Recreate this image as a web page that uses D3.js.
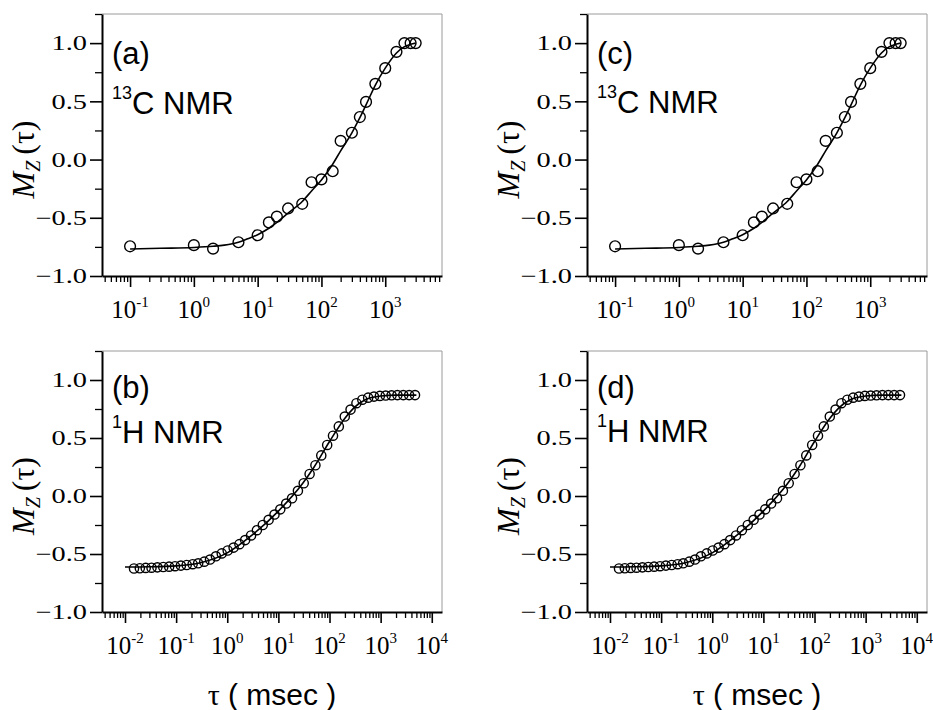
<!DOCTYPE html>
<html>
<head>
<meta charset="utf-8">
<script src="https://cdn.jsdelivr.net/npm/d3@7"></script>
<style>
  body { margin: 0; background: #fff; }
  svg text { fill: #000; }
</style>
</head>
<body>
<script>
  // 13C NMR recovery, panels (a) and (c)
  const cTau = [0.1, 1, 2, 5, 10, 15, 20, 30, 50, 70, 100, 150, 200, 300, 400, 500, 700, 1000, 1500, 2000, 2500, 3000];
  const cMz = [-0.745, -0.735, -0.765, -0.71, -0.65, -0.54, -0.49, -0.42, -0.38, -0.195, -0.17, -0.10, 0.16, 0.23, 0.365, 0.495, 0.65, 0.785, 0.925, 1.0, 1.0, 1.0];
  const cFitTau = [0.1, 0.3, 1, 2, 3, 5, 7, 10, 15, 20, 30, 50, 70, 100, 150, 200, 300, 400, 500, 700, 1000, 1500, 2000, 2500, 3000];
  const cFitMz = [-0.768, -0.762, -0.755, -0.745, -0.735, -0.71, -0.68, -0.645, -0.59, -0.54, -0.46, -0.36, -0.27, -0.175, -0.04, 0.075, 0.23, 0.36, 0.47, 0.64, 0.785, 0.915, 0.97, 0.99, 1.0];

  // 1H NMR recovery, panels (b) and (d)
  const hTau = [0.015, 0.0195, 0.0254, 0.033, 0.043, 0.056, 0.073, 0.095, 0.124, 0.161, 0.21, 0.27, 0.355, 0.46, 0.60, 0.78,
    1.02, 1.33, 1.73, 2.24, 2.92, 3.8, 4.95, 6.45, 8.4, 10.9, 14.2, 18.5, 24.1, 31.3, 40.8, 53, 69, 90, 117, 152, 199,
    258, 336, 438, 570, 741, 966, 1256, 1636, 2128, 2773, 3606, 4699];
  const hMz = [-0.625, -0.623, -0.62, -0.618, -0.615, -0.612, -0.609, -0.605, -0.60, -0.595, -0.588, -0.58, -0.566, -0.548,
    -0.52, -0.495, -0.47, -0.445, -0.415, -0.38, -0.34, -0.295, -0.25, -0.205, -0.16, -0.115, -0.065, -0.02,
    0.045, 0.11, 0.19, 0.265, 0.35, 0.44, 0.52, 0.60, 0.685, 0.745, 0.80, 0.83, 0.848, 0.857, 0.863, 0.866, 0.868,
    0.87, 0.87, 0.87, 0.87];
  const hFitTau = [0.01, 0.03, 0.1, 0.3, 1, 3, 10, 30, 50, 100, 200, 300, 500, 1000, 2000, 5000];
  const hFitMz = [-0.612, -0.61, -0.602, -0.575, -0.49, -0.34, -0.13, 0.11, 0.25, 0.47, 0.67, 0.76, 0.83, 0.862, 0.87, 0.87];

  // tick labels
  const topExponents = [-1, 0, 1, 2, 3];
  const bottomExponents = [-2, -1, 0, 1, 2, 3, 4];
  const yMajor = [-1.0, -0.5, 0.0, 0.5, 1.0];
  const yMinor = [-0.75, -0.25, 0.25, 0.75, 1.25];

  const sets = {
    c: { tau: cTau, mz: cMz, fitTau: cFitTau, fitMz: cFitMz, exps: topExponents, dom: [0.0363, 7760], r: 5.4 },
    h: { tau: hTau, mz: hMz, fitTau: hFitTau, fitMz: hFitMz, exps: bottomExponents, dom: [0.00355, 15850], r: 4.6 }
  };

  const panels = [
    { tag: "(a)", iso: "13", nuc: "C NMR", set: "c", left: 102, top: 14, h: 262, tagY: 50, nucY: 100, xTitle: false },
    { tag: "(b)", iso: "1", nuc: "H NMR", set: "h", left: 102, top: 351, h: 261, tagY: 47, nucY: 92, xTitle: true },
    { tag: "(c)", iso: "13", nuc: "C NMR", set: "c", left: 587, top: 14, h: 262, tagY: 50, nucY: 99, xTitle: false },
    { tag: "(d)", iso: "1", nuc: "H NMR", set: "h", left: 587, top: 351, h: 261, tagY: 47, nucY: 91, xTitle: true }
  ];
  const panelW = 340;

  const svg = d3.select("body").append("svg")
    .attr("width", 933)
    .attr("height", 710);

  panels.forEach(p => {
    const s = sets[p.set];
    const g = svg.append("g").attr("transform", "translate(" + p.left + "," + p.top + ")");

    const x = d3.scaleLog().domain(s.dom).range([0, panelW]);
    const y = d3.scaleLinear().domain([-1, 1.25]).range([p.h, 0]);

    // frame top / right (faint)
    g.append("path")
      .attr("d", "M0,0H" + panelW + "V" + p.h)
      .attr("fill", "none")
      .attr("stroke", "#9a9a9a")
      .attr("stroke-width", 1);

    // x ticks
    const allTicks = x.ticks();
    const major = allTicks.filter(t => Math.abs(Math.log10(t) - Math.round(Math.log10(t))) < 1e-9);
    const minor = allTicks.filter(t => major.indexOf(t) < 0);

    g.append("g").attr("transform", "translate(0," + p.h + ")")
      .call(d3.axisBottom(x).tickValues(minor).tickSize(6).tickSizeOuter(0).tickFormat(""))
      .call(a => a.select(".domain").remove())
      .selectAll("line").attr("stroke-width", 1.3);
    g.append("g").attr("transform", "translate(0," + p.h + ")")
      .call(d3.axisBottom(x).tickValues(major).tickSize(11).tickSizeOuter(0).tickFormat(""))
      .call(a => a.select(".domain").attr("stroke-width", 2))
      .selectAll("line").attr("stroke-width", 1.6);

    // x tick labels
    s.exps.forEach(e => {
      const t = g.append("text")
        .attr("x", x(Math.pow(10, e)))
        .attr("y", p.h + 42)
        .attr("text-anchor", "middle")
        .style("font-family", "'Liberation Serif', 'Times New Roman', serif")
        .style("font-size", "25px");
      t.append("tspan").text("10");
      t.append("tspan").attr("dy", -11).style("font-size", "15px").text(e < 0 ? "-" + (-e) : String(e));
    });

    // y ticks
    g.append("g")
      .call(d3.axisLeft(y).tickValues(yMinor).tickSize(7).tickSizeOuter(0).tickFormat(""))
      .call(a => a.select(".domain").remove())
      .selectAll("line").attr("stroke-width", 1.3);
    g.append("g")
      .call(d3.axisLeft(y).tickValues(yMajor).tickSize(12).tickSizeOuter(0).tickFormat(""))
      .call(a => a.select(".domain").attr("stroke-width", 2))
      .selectAll("line").attr("stroke-width", 1.6);

    // y tick labels (scan is horizontally stretched)
    yMajor.forEach(v => {
      g.append("g")
        .attr("transform", "translate(-15," + y(v) + ") scale(1.35,1)")
        .append("text")
        .attr("text-anchor", "end")
        .attr("dy", "0.35em")
        .style("font-family", "'Liberation Serif', 'Times New Roman', serif")
        .style("font-size", "21px")
        .text(d3.format(".1f")(v));
    });

    // y title
    const yt = g.append("text")
      .attr("transform", "translate(-68," + y(0) + ") rotate(-90)")
      .attr("text-anchor", "middle")
      .style("font-family", "'Liberation Serif', 'Times New Roman', serif")
      .style("font-size", "32px");
    yt.append("tspan").style("font-style", "italic").text("M");
    yt.append("tspan").style("font-style", "italic").style("font-size", "20px").attr("dy", 6).text("Z");
    yt.append("tspan").attr("dy", -6).attr("dx", 6).text("(\u03c4)");

    // fit curve
    const fit = s.fitTau.map((t, i) => [t, s.fitMz[i]]);
    g.append("path")
      .datum(fit)
      .attr("fill", "none")
      .attr("stroke", "#000")
      .attr("stroke-width", 1.6)
      .attr("d", d3.line().x(d => x(d[0])).y(d => y(d[1])).curve(d3.curveMonotoneX));

    // data circles
    g.selectAll("circle.pt")
      .data(s.tau.map((t, i) => [t, s.mz[i]]))
      .enter().append("circle")
      .attr("class", "pt")
      .attr("cx", d => x(d[0]))
      .attr("cy", d => y(d[1]))
      .attr("r", s.r)
      .attr("fill", "none")
      .attr("stroke", "#000")
      .attr("stroke-width", 1.4);

    // panel tag and nucleus
    g.append("text")
      .attr("x", 10)
      .attr("y", p.tagY)
      .style("font-family", "'Liberation Sans', Arial, sans-serif")
      .style("font-size", "31px")
      .text(p.tag);
    const nt = g.append("text")
      .attr("x", 10)
      .attr("y", p.nucY)
      .style("font-family", "'Liberation Sans', Arial, sans-serif")
      .style("font-size", "31px");
    nt.append("tspan").style("font-size", "18px").attr("dy", -15).text(p.iso);
    nt.append("tspan").attr("dy", 15).text(p.nuc);

    // x title
    if (p.xTitle) {
      const xt = g.append("text")
        .attr("x", panelW / 2)
        .attr("y", 705 - p.top)
        .attr("text-anchor", "middle")
        .style("font-family", "'Liberation Sans', Arial, sans-serif")
        .style("font-size", "30px");
      xt.append("tspan").style("font-family", "'Liberation Serif', 'Times New Roman', serif").text("\u03c4");
      xt.append("tspan").text(" ( msec )");
    }
  });
</script>
</body>
</html>
